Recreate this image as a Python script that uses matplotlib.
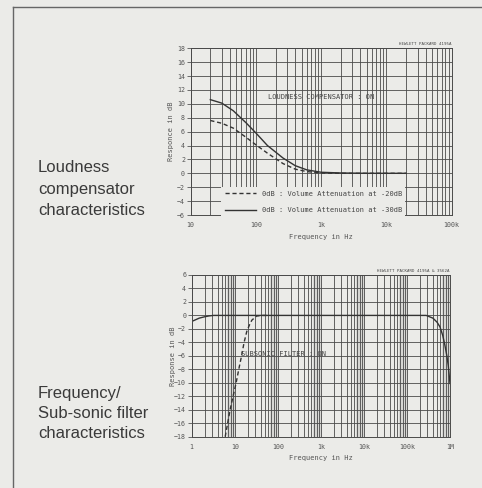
import matplotlib
matplotlib.use('Agg')
import matplotlib.pyplot as plt
from matplotlib.lines import Line2D
from matplotlib.ticker import FixedLocator, NullFormatter

# loudness compensator curves (Hz, dB)
loud_freq = [20, 30, 45, 70, 100, 150, 260, 400, 600, 1000, 2000, 5000, 20000]
loud_30db = [10.6, 10.1, 9.0, 7.3, 5.8, 4.0, 2.2, 1.1, 0.5, 0.15, 0.05, 0.0, 0.0]
loud_20db = [7.6, 7.2, 6.5, 5.2, 4.1, 2.9, 1.4, 0.6, 0.25, 0.05, 0.0, 0.0, 0.0]

# frequency response, sub-sonic filter off (solid) and on (dashed)
resp_freq = [1, 1.5, 2, 2.5, 3.2, 5, 100, 1e4, 2.8e5, 4e5, 5e5, 5.85e5, 6.8e5, 7.6e5, 8.4e5, 9.1e5, 1e6]
resp_off = [-0.9, -0.4, -0.2, -0.08, 0, 0, 0, 0, 0, -0.4, -1.0, -1.7, -3.0, -4.4, -5.9, -7.4, -10.1]
sub_freq = [6.0, 7.8, 9, 10.7, 12.5, 14.5, 16.5, 19, 22, 25, 32, 42, 60]
sub_on = [-18, -14, -12.2, -10.1, -7.9, -5.9, -4.0, -2.4, -1.4, -0.7, -0.1, 0, 0]

top_ticks = [10, 100, 1000, 10000, 100000]
top_labels = ['10', '100', '1k', '10k', '100k']
bot_ticks = [1, 10, 100, 1000, 10000, 100000, 1000000]
bot_labels = ['1', '10', '100', '1k', '10k', '100k', '1M']

bg = '#ebebe8'
ink = '#3a3a3a'
mono = 'DejaVu Sans Mono'

fig = plt.figure(figsize=(4.82, 4.88), dpi=100, facecolor=bg)

# page frame
fig.add_artist(Line2D([13/482, 1], [1-7/488, 1-7/488], color='#666', lw=1.0))
fig.add_artist(Line2D([13/482, 13/482], [0, 1-7/488], color='#666', lw=1.0))

def minors(lo, hi):
    out = []
    d = lo
    while d < hi:
        out += [d*k for k in range(2, 10)]
        d *= 10
    return out

def setup(ax, xlo, xhi, ylo, yhi, ticks, labels, ylabel, hp, ypad):
    ax.set_facecolor(bg)
    ax.set_xscale('log')
    ax.set_xlim(xlo, xhi)
    ax.set_ylim(ylo, yhi)
    ax.set_xticks(ticks)
    ax.set_xticklabels(labels)
    ax.xaxis.set_minor_locator(FixedLocator(minors(xlo, xhi)))
    ax.xaxis.set_minor_formatter(NullFormatter())
    ax.set_yticks(range(ylo, yhi+1, 2))
    ax.grid(True, which='both', axis='x', color='#4a4a4a', lw=0.6)
    ax.grid(True, which='major', axis='y', color='#4a4a4a', lw=0.6)
    ax.tick_params(axis='x', which='both', length=0, pad=5, labelsize=4.8, labelcolor='#555')
    ax.tick_params(axis='y', length=3, width=0.6, color='#555', pad=1, labelsize=4.8, labelcolor='#555')
    for lab in ax.get_xticklabels() + ax.get_yticklabels():
        lab.set_family(mono)
    for s in ax.spines.values():
        s.set_color('#4a4a4a')
        s.set_linewidth(0.7)
    ax.set_xlabel('Frequency in Hz', family=mono, fontsize=5, color='#555', labelpad=4)
    ax.set_ylabel(ylabel, family=mono, fontsize=5, color='#555', labelpad=ypad)
    ax.text(1.0, 1.015, hp, transform=ax.transAxes, ha='right', va='bottom',
            family=mono, fontsize=3, color='#444')

# top: loudness compensator
ax1 = fig.add_axes([0.3956, 0.5594, 0.5415, 0.3418])
setup(ax1, 10, 100000, -6, 18, top_ticks, top_labels, 'Responce in dB', 'HEWLETT PACKARD 4195A', 2)
ax1.plot(loud_freq, loud_20db, color='#333', lw=1.0, ls=(0, (3, 2)),
         label='0dB : Volume Attenuation at -20dB')
ax1.plot(loud_freq, loud_30db, color='#333', lw=1.0,
         label='0dB : Volume Attenuation at -30dB')
ax1.text(1000, 11, 'LOUDNESS COMPENSATOR : ON', family=mono, fontsize=5, color='#444',
         ha='center', va='center')
leg = ax1.legend(loc='lower center', bbox_to_anchor=(0.47, -0.01), frameon=True, facecolor=bg,
                 edgecolor='none', framealpha=1, fancybox=False, handlelength=4.5,
                 labelspacing=1.5, borderpad=0.5, borderaxespad=0.0,
                 prop={'family': mono, 'size': 5})
for t in leg.get_texts():
    t.set_color('#444')

# bottom: frequency / sub-sonic filter
ax2 = fig.add_axes([0.3977, 0.1051, 0.5359, 0.3314])
for d in [1, 10, 100, 1000, 10000, 100000]:
    ax2.axvspan(d*6.5, d*10.5, color='#d6d6d3', lw=0, zorder=0)
setup(ax2, 1, 1000000, -18, 6, bot_ticks, bot_labels, 'Response in dB',
      'HEWLETT PACKARD 4195A & 3562A', -1)
ax2.plot(resp_freq, resp_off, color='#333', lw=1.0)
ax2.plot(sub_freq, sub_on, color='#333', lw=1.0, ls=(0, (3, 2)))
ax2.text(135, -5.7, 'SUBSONIC FILTER : ON', family=mono, fontsize=5, color='#444',
         ha='center', va='center')

# left captions
sans = 'Liberation Sans'
for txt, y in [('Loudness', 172), ('compensator', 193.5), ('characteristics', 215),
               ('Frequency/', 398), ('Sub-sonic filter', 418), ('characteristics', 438)]:
    fig.text(38/482, 1 - y/488, txt, family=sans, fontsize=12, color=ink,
             ha='left', va='baseline')

fig.savefig('out.png', dpi=100, facecolor=bg)
